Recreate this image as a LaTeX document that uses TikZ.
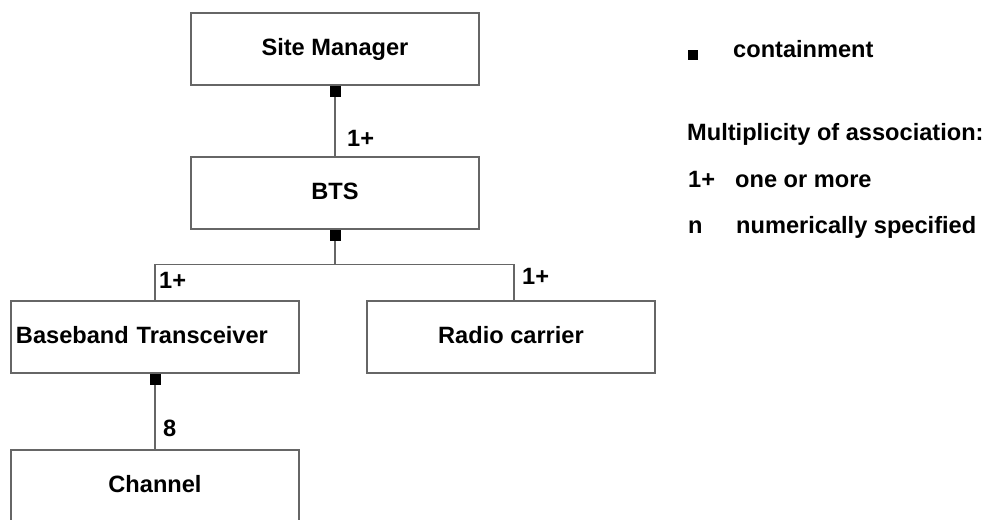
\documentclass[tikz,border=0pt]{standalone}
\usepackage{fontspec}
\setmainfont{Liberation Sans}
\begin{document}
\begin{tikzpicture}[x=1pt,y=-1pt,
        every node/.style={font=\fontsize{23.6}{28}\selectfont\bfseries},
        objbox/.style={draw=black!60,line width=1.2pt,minimum width=288pt,minimum height=72pt,
            inner sep=5pt,text height=17pt,text depth=4.7pt},
        contain/.style={fill=black,inner sep=0pt,minimum size=11pt,anchor=north},
        link/.style={draw=black!60,line width=1.2pt},
        mult/.style={inner sep=0pt,anchor=base west}]
        \useasboundingbox (0,0) rectangle (987,519);
        %% Boxes
        \node[objbox] (site) at (335,49) {Site Manager};
        \node[objbox] (bts) at (335,193) {BTS};
        \node[objbox,text width=278pt,align=left] (bbt) at (155,337) {Baseband Transceiver};
        \node[objbox] (radio) at (511,337) {Radio carrier};
        \node[objbox] (chan) at (155,486) {Channel};
        %% Associations
        \draw[link] (site.south) -- (bts.north);
        \draw[link] (bts.south) -- ++(0,35) coordinate (fork);
        \draw[link] (bbt.north) |- (fork) -| ([xshift=3pt]radio.north);
        \draw[link] (bbt.south) -- (chan.north);
        %% Containment squares
        \node[contain] (sitesq) at (site.south) {};
        \node[contain] (btssq) at (bts.south) {};
        \node[contain] (bbtsq) at (bbt.south) {};
        %% Multiplicities
        \node[mult] (m1) at (347,146) {1+};
        \node[mult] (m2) at (159,288) {1+};
        \node[mult] (m3) at (522,284) {1+};
        \node[mult] (m4) at (163,436) {8};
        %% Legend
        \node[fill=black,inner sep=0pt,minimum size=10pt] (keysq) at (693,55) {};
        \node[mult] (keyc) at (733,58) {containment};
        \node[mult] (keym) at (687,140) {Multiplicity of association:};
        \node[mult] (key1) at (688,187) {1+};
        \node[mult] (key1t) at (735,187) {one or more};
        \node[mult] (keyn) at (688,233) {n};
        \node[mult] (keynt) at (736,233) {numerically specified};
\end{tikzpicture}
\end{document}
